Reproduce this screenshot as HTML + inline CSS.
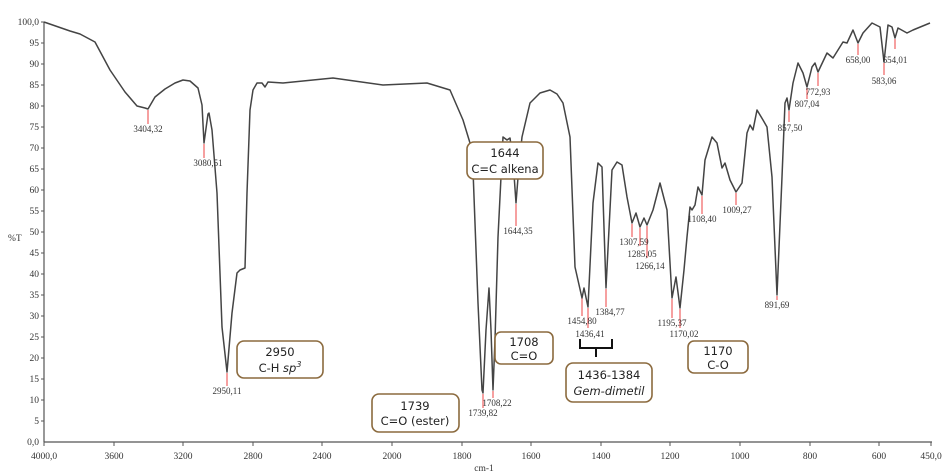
<!DOCTYPE html>
<html><head><meta charset="utf-8"><style>
html,body{margin:0;padding:0;background:#fff;}
svg{display:block;}
.t{font-family:"Liberation Serif",serif;font-size:9.5px;fill:#333;}
.p{font-family:"Liberation Serif",serif;font-size:9px;fill:#333;}
.b{font-family:"DejaVu Sans","Liberation Sans",sans-serif;font-size:11.5px;fill:#222;text-anchor:middle;}
.box{fill:#fff;stroke:#8b6a3e;stroke-width:1.6;}
.r{stroke:#f06060;stroke-width:1.2;}
</style></head><body>
<svg width="945" height="472" viewBox="0 0 945 472" xmlns="http://www.w3.org/2000/svg">
<rect width="945" height="472" fill="#fff"/>
<!-- axes -->
<line x1="44" y1="22" x2="44" y2="442" stroke="#555" stroke-width="1.2"/>
<line x1="44" y1="442" x2="932" y2="442" stroke="#555" stroke-width="1.2"/>
<g stroke="#555" stroke-width="1">
<line x1="41" y1="22" x2="44" y2="22"/><line x1="41" y1="43" x2="44" y2="43"/><line x1="41" y1="64" x2="44" y2="64"/><line x1="41" y1="85" x2="44" y2="85"/><line x1="41" y1="106" x2="44" y2="106"/><line x1="41" y1="127" x2="44" y2="127"/><line x1="41" y1="148" x2="44" y2="148"/><line x1="41" y1="169" x2="44" y2="169"/><line x1="41" y1="190" x2="44" y2="190"/><line x1="41" y1="211" x2="44" y2="211"/><line x1="41" y1="232" x2="44" y2="232"/><line x1="41" y1="253" x2="44" y2="253"/><line x1="41" y1="274" x2="44" y2="274"/><line x1="41" y1="295" x2="44" y2="295"/><line x1="41" y1="316" x2="44" y2="316"/><line x1="41" y1="337" x2="44" y2="337"/><line x1="41" y1="358" x2="44" y2="358"/><line x1="41" y1="379" x2="44" y2="379"/><line x1="41" y1="400" x2="44" y2="400"/><line x1="41" y1="421" x2="44" y2="421"/>
<line x1="44" y1="442" x2="44" y2="446"/><line x1="114" y1="442" x2="114" y2="446"/><line x1="183" y1="442" x2="183" y2="446"/><line x1="253" y1="442" x2="253" y2="446"/><line x1="322" y1="442" x2="322" y2="446"/><line x1="392" y1="442" x2="392" y2="446"/><line x1="462" y1="442" x2="462" y2="446"/><line x1="531" y1="442" x2="531" y2="446"/><line x1="601" y1="442" x2="601" y2="446"/><line x1="670" y1="442" x2="670" y2="446"/><line x1="740" y1="442" x2="740" y2="446"/><line x1="810" y1="442" x2="810" y2="446"/><line x1="879" y1="442" x2="879" y2="446"/><line x1="931" y1="442" x2="931" y2="446"/>
</g>
<g class="t" text-anchor="end">
<text x="39" y="25">100,0</text><text x="39" y="46">95</text><text x="39" y="67">90</text><text x="39" y="88">85</text><text x="39" y="109">80</text><text x="39" y="130">75</text><text x="39" y="151">70</text><text x="39" y="172">65</text><text x="39" y="193">60</text><text x="39" y="214">55</text><text x="39" y="235">50</text><text x="39" y="256">45</text><text x="39" y="277">40</text><text x="39" y="298">35</text><text x="39" y="319">30</text><text x="39" y="340">25</text><text x="39" y="361">20</text><text x="39" y="382">15</text><text x="39" y="403">10</text><text x="39" y="424">5</text><text x="39" y="445">0,0</text>
</g>
<g class="t" text-anchor="middle">
<text x="44" y="459">4000,0</text><text x="114" y="459">3600</text><text x="183" y="459">3200</text><text x="253" y="459">2800</text><text x="322" y="459">2400</text><text x="392" y="459">2000</text><text x="462" y="459">1800</text><text x="531" y="459">1600</text><text x="601" y="459">1400</text><text x="670" y="459">1200</text><text x="740" y="459">1000</text><text x="810" y="459">800</text><text x="879" y="459">600</text><text x="931" y="459">450,0</text>
<text x="484" y="471">cm-1</text>
</g>
<text class="t" x="8" y="241">%T</text>
<!-- red markers -->
<g class="r">
<line x1="148" y1="110" x2="148" y2="124"/><line x1="204" y1="144" x2="204" y2="158"/><line x1="227" y1="373" x2="227" y2="386"/>
<line x1="483" y1="394" x2="483" y2="408"/><line x1="493" y1="391" x2="493" y2="398"/><line x1="516" y1="204" x2="516" y2="226"/>
<line x1="582" y1="298" x2="582" y2="316"/><line x1="588" y1="308" x2="588" y2="328"/><line x1="606" y1="289" x2="606" y2="307"/>
<line x1="632" y1="224" x2="632" y2="237"/><line x1="640" y1="228" x2="640" y2="246"/><line x1="647" y1="226" x2="647" y2="258"/>
<line x1="672" y1="299" x2="672" y2="318"/><line x1="680" y1="309" x2="680" y2="328"/>
<line x1="702" y1="196" x2="702" y2="214"/><line x1="736" y1="193" x2="736" y2="205"/><line x1="777" y1="296" x2="777" y2="300"/>
<line x1="789" y1="111" x2="789" y2="122"/><line x1="807" y1="88" x2="807" y2="99"/><line x1="818" y1="73" x2="818" y2="86"/>
<line x1="858" y1="44" x2="858" y2="55"/><line x1="884" y1="63" x2="884" y2="75"/><line x1="895" y1="39" x2="895" y2="49"/>
</g>
<!-- spectrum -->
<polyline fill="none" stroke="#444" stroke-width="1.5" stroke-linejoin="round" points="
44,22 70,31 80,34 95,42 110,70 125,92 137,106 145,108 148,109 155,97 165,89 175,83 183,80 190,81 198,88 202,105 204,143 208,114 209,113 212,130 217,193 222,327 227,372 232,313 237,273 240,270 245,268 247,193 250,110 253,90 257,83 262,83 265,87 268,82 283,83 333,78 383,85 427,83 450,90 463,120 470,143
473,170 478,303 482,390 483,393 486,330 489,288 491,330 493,390 495,340 498,237 503,137 507,140 510,138 513,160 516,203 519,165 522,137 530,103 540,93 550,90 557,94 563,103 570,137 575,267 582,298 584,288 588,307 593,203 598,163 602,167 606,288 612,170 617,162 622,165 627,197 632,223 636,213 640,227 644,218 647,225 653,210 660,183 667,210 672,298 676,277 680,308 684,270 687,237 690,207
692,210 695,205 698,187 702,195 705,160 712,137 717,143 722,168 725,163 730,180 736,192 742,183 747,133 750,125 753,130 757,110 763,120 767,127 772,177 777,295 782,177 785,103 787,98 789,110 793,83 798,63 803,73 807,87 812,67 815,63 818,72 827,53 833,58 843,42 847,43 853,30 858,43 863,33 872,23 880,27 884,62 888,25 892,27 895,38 898,28 907,33 913,30 930,23"/>
<!-- peak labels -->
<g class="p" text-anchor="middle">
<text x="148" y="132">3404,32</text><text x="208" y="166">3080,51</text><text x="227" y="394">2950,11</text>
<text x="483" y="416">1739,82</text><text x="497" y="406">1708,22</text><text x="518" y="234">1644,35</text>
<text x="582" y="324">1454,80</text><text x="590" y="337">1436,41</text><text x="610" y="315">1384,77</text>
<text x="634" y="245">1307,59</text><text x="642" y="257">1285,05</text><text x="650" y="269">1266,14</text>
<text x="672" y="326">1195,37</text><text x="684" y="337">1170,02</text>
<text x="702" y="222">1108,40</text><text x="737" y="213">1009,27</text><text x="777" y="308">891,69</text>
<text x="790" y="131">857,50</text><text x="807" y="107">807,04</text><text x="818" y="95">772,93</text>
<text x="858" y="63">658,00</text><text x="884" y="84">583,06</text><text x="895" y="63">654,01</text>
</g>
<!-- brace -->
<path d="M580,339 V348 H612 V339 M596,348 V357" fill="none" stroke="#111" stroke-width="2"/>
<!-- boxes -->
<rect class="box" x="237" y="341" width="86" height="37" rx="7"/>
<text class="b" x="280" y="356">2950</text><text class="b" x="280" y="372">C-H <tspan font-style="italic">sp</tspan><tspan font-size="8" dy="-5" font-style="italic">3</tspan></text>
<rect class="box" x="372" y="394" width="87" height="38" rx="7"/>
<text class="b" x="415" y="410">1739</text><text class="b" x="415" y="425">C=O (ester)</text>
<rect class="box" x="467" y="142" width="76" height="37" rx="7"/>
<text class="b" x="505" y="157">1644</text><text class="b" x="505" y="173">C=C alkena</text>
<rect class="box" x="495" y="332" width="58" height="32" rx="6"/>
<text class="b" x="524" y="346">1708</text><text class="b" x="524" y="360">C=O</text>
<rect class="box" x="566" y="363" width="86" height="39" rx="7"/>
<text class="b" x="609" y="379">1436-1384</text><text class="b" x="609" y="395" font-style="italic">Gem-dimetil</text>
<rect class="box" x="688" y="341" width="60" height="32" rx="6"/>
<text class="b" x="718" y="355">1170</text><text class="b" x="718" y="369">C-O</text>
</svg>
</body></html>
